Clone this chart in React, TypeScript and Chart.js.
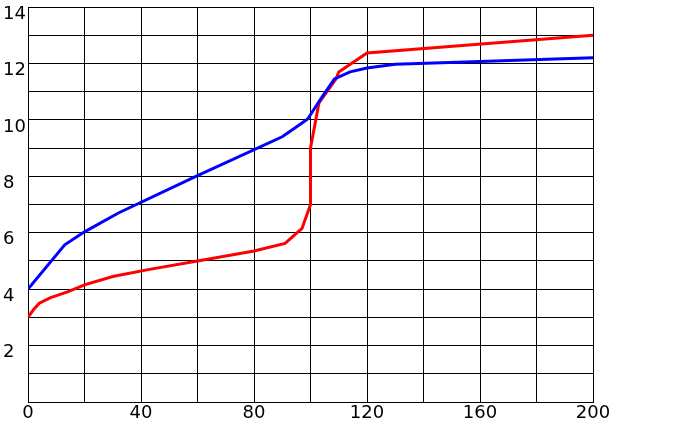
import React, { useEffect, useRef } from "react";
import { Chart, registerables } from "chart.js";

Chart.register(...registerables);

const blueX = [0, 13, 20, 32, 60, 90, 96, 99, 104, 108.5, 114, 120, 130, 160, 200];
const blueY = [4.0, 5.57, 6.03, 6.7, 8.02, 9.4, 9.82, 10.03, 10.8, 11.45, 11.7, 11.84, 11.97, 12.07, 12.2];

const redX = [0, 2, 4, 8, 14, 20, 30, 43, 60, 80, 91, 97, 100, 100, 103, 109, 110, 120, 200];
const redY = [3.0, 3.28, 3.5, 3.7, 3.9, 4.15, 4.45, 4.7, 5.0, 5.35, 5.62, 6.15, 7.0, 9.0, 10.6, 11.45, 11.7, 12.37, 13.0];

const xGrid = [0, 20, 40, 60, 80, 100, 120, 140, 160, 180, 200];
const xLabelled = [0, 40, 80, 120, 160, 200];
const yLabelled = [2, 4, 6, 8, 10, 12, 14];

export default function App() {
  const ref = useRef<HTMLCanvasElement>(null);
  useEffect(() => {
    if (!ref.current) return;
    const font = { family: "'DejaVu Sans', sans-serif", size: 18 };
    const chart = new Chart(ref.current, {
      type: "scatter",
      data: {
        datasets: [
          {
            label: "blue",
            data: blueX.map((x, i) => ({ x, y: blueY[i] })),
            showLine: true,
            borderColor: "#0000ff",
            backgroundColor: "#0000ff",
            borderWidth: 3,
            pointRadius: 0,
            tension: 0,
          },
          {
            label: "red",
            data: redX.map((x, i) => ({ x, y: redY[i] })),
            showLine: true,
            borderColor: "#ff0000",
            backgroundColor: "#ff0000",
            borderWidth: 3,
            pointRadius: 0,
            tension: 0,
          },
        ],
      },
      options: {
        responsive: false,
        animation: false,
        layout: { padding: { top: 7, right: 87, left: 3, bottom: 0 } },
        plugins: { legend: { display: false }, tooltip: { enabled: false } },
        scales: {
          x: {
            type: "linear",
            min: 0,
            max: 200,
            afterBuildTicks: (s: any) => {
              s.ticks = xGrid.map((v) => ({ value: v }));
            },
            afterFit: (s: any) => {
              s.height = 24;
              s.paddingLeft = 0;
              s.paddingRight = 0;
              s.paddingTop = 0;
              s.paddingBottom = 0;
            },
            grid: { color: "#000", lineWidth: 1, drawTicks: false },
            border: { color: "#000", width: 1 },
            ticks: {
              color: "#000",
              font,
              padding: 1,
              maxRotation: 0,
              autoSkip: false,
              callback: (v: any) => (xLabelled.includes(Number(v)) ? String(v) : ""),
            },
          },
          y: {
            type: "linear",
            min: 0,
            max: 14,
            afterFit: (s: any) => {
              s.width = 25;
              s.paddingTop = 0;
              s.paddingBottom = 0;
              s.paddingLeft = 0;
              s.paddingRight = 0;
            },
            grid: { color: "#000", lineWidth: 1, drawTicks: false },
            border: { color: "#000", width: 1 },
            ticks: {
              stepSize: 1,
              color: "#000",
              font,
              crossAlign: "far",
              labelOffset: 7,
              padding: 2,
              autoSkip: false,
              callback: (v: any) => (yLabelled.includes(Number(v)) ? String(v) : ""),
            },
          },
        },
      },
    } as any);
    return () => chart.destroy();
  }, []);
  return (
    <div style={{ position: "absolute", left: 0, top: 0, width: 680, height: 426, background: "#fff" }}>
      <canvas ref={ref} width={680} height={426} style={{ width: 680, height: 426 }} />
    </div>
  );
}
